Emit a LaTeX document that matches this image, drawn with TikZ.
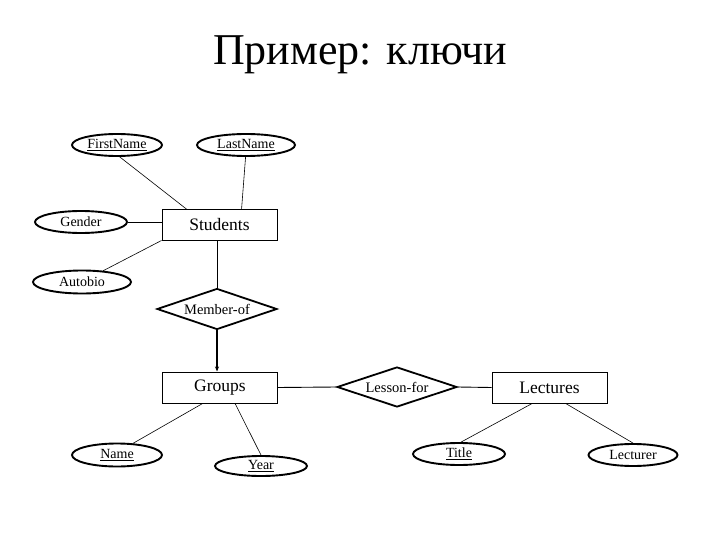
\documentclass[tikz,border=0pt]{standalone}
\usepackage{fontspec}
\setmainfont{Liberation Serif}
\usetikzlibrary{shapes.geometric,calc,arrows.meta}
\begin{document}
\begin{tikzpicture}[x=1pt,y=-1pt,
  attr/.style={draw,ellipse,line width=1.9pt,minimum width=90pt,minimum height=22pt,inner sep=0pt,font=\rmfamily\fontsize{14}{14}\selectfont},
  ent/.style={draw,rectangle,line width=1pt,minimum width=115pt,minimum height=31pt,inner sep=0pt,font=\rmfamily\fontsize{17.5}{17.5}\selectfont},
  rel/.style={draw,diamond,aspect=3,line width=1.8pt,minimum width=120pt,minimum height=41pt,inner sep=0pt,font=\rmfamily\fontsize{14.5}{14.5}\selectfont},
  conn/.style={line width=0.6pt},
  isa/.style={line width=2pt,-{Stealth[length=5pt,width=4pt]}}]
\useasboundingbox (0,0) rectangle (720,540);
\node[font=\rmfamily\fontsize{44}{44}\selectfont] (title) at (360,55) {Пример: ключи};
\node[attr] (fn) at (117,145) {\underline{FirstName}};
\node[attr,minimum width=98pt] (ln) at (246,145) {\underline{LastName}};
\node[attr,minimum width=92pt] (gd) at (81,222) {Gender};
\node[ent,minimum height=30pt] (st) at (219.5,225) {Students};
\node[attr,minimum width=98pt,minimum height=23pt] (ab) at (82,282) {Autobio};
\node[rel] (mo) at (217,309) {Member-of};
\node[ent] (gr) at (220,387.5) {Groups};
\node[rel,minimum height=40pt] (lf) at (397,387) {Lesson-for};
\node[ent] (lc) at (549.5,387.5) {Lectures};
\node[attr,minimum height=23pt] (nm) at (117,455) {\underline{Name}};
\node[attr,minimum width=92pt,minimum height=20pt] (yr) at (261,466) {\underline{Year}};
\node[attr,minimum width=92pt] (tt) at (459,454) {\underline{Title}};
\node[attr,minimum width=89pt] (lr) at (633,455) {Lecturer};
\draw[conn] (fn.-77) -- ($(st.north west)!0.22!(st.north east)$);
\draw[conn] (ln.-92) -- ($(st.north west)!0.69!(st.north east)$);
\draw[line width=0.9pt] (gd.east) -- (gd.east -| st.west);
\draw[conn] (ab.28) -- (st.south west);
\draw[line width=0.9pt] (mo.north |- st.south) -- (mo.north);
\draw[isa] (mo.south) -- (mo.south |- gr.north);
\draw[line width=0.9pt] (gr.east) -- (lf.west);
\draw[line width=0.9pt] (lf.east) -- (lc.west);
\draw[conn] (nm.36) -- ($(gr.south west)!0.35!(gr.south east)$);
\draw[conn] (yr.north) -- ($(gr.south west)!0.63!(gr.south east)$);
\draw[conn] (tt.80) -- ($(lc.south west)!0.35!(lc.south east)$);
\draw[conn] (lr.north) -- ($(lc.south west)!0.64!(lc.south east)$);
\end{tikzpicture}
\end{document}
